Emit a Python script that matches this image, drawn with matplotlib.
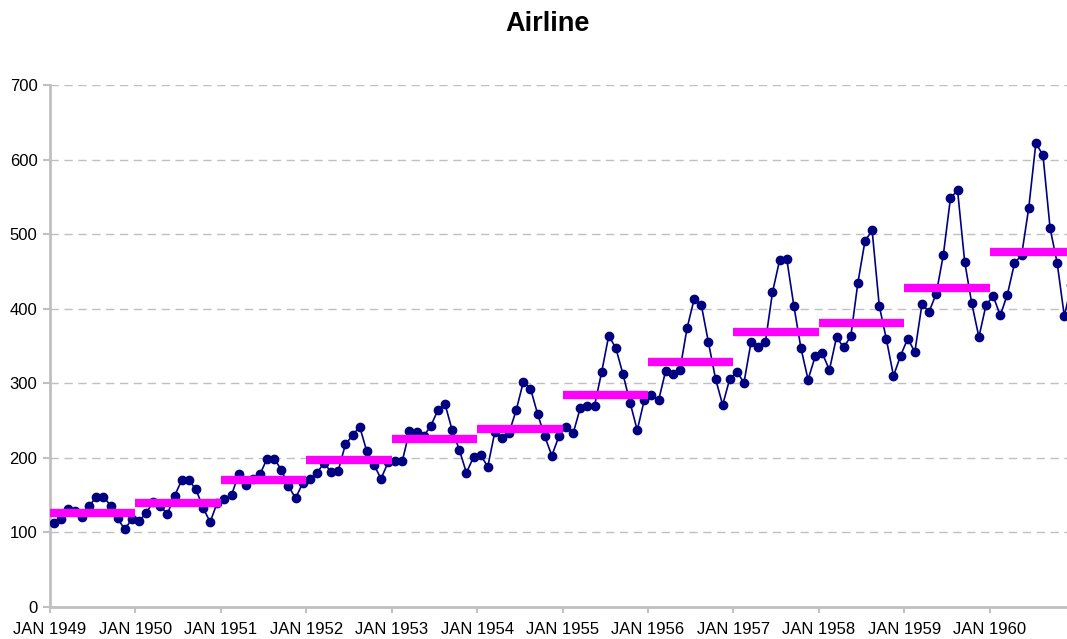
import matplotlib
matplotlib.use("Agg")
import matplotlib.pyplot as plt
import numpy as np

years = [1949, 1950, 1951, 1952, 1953, 1954, 1955, 1956, 1957, 1958, 1959, 1960]
passengers = [
    112, 118, 132, 129, 121, 135, 148, 148, 136, 119, 104, 118,
    115, 126, 141, 135, 125, 149, 170, 170, 158, 133, 114, 140,
    145, 150, 178, 163, 172, 178, 199, 199, 184, 162, 146, 166,
    171, 180, 193, 181, 183, 218, 230, 242, 209, 191, 172, 194,
    196, 196, 236, 235, 229, 243, 264, 272, 237, 211, 180, 201,
    204, 188, 235, 227, 234, 264, 302, 293, 259, 229, 203, 229,
    242, 233, 267, 269, 270, 315, 364, 347, 312, 274, 237, 278,
    284, 277, 317, 313, 318, 374, 413, 405, 355, 306, 271, 306,
    315, 301, 356, 348, 355, 422, 465, 467, 404, 347, 305, 336,
    340, 318, 362, 348, 363, 435, 491, 505, 404, 359, 310, 337,
    360, 342, 406, 396, 420, 472, 548, 559, 463, 407, 362, 405,
    417, 391, 419, 461, 472, 535, 622, 606, 508, 461, 390, 432,
]
yearly_mean = [126.7, 139.7, 170.2, 197.0, 225.0, 238.9, 284.0, 328.3, 368.4, 381.0, 428.3, 476.2]
tick_labels = ["JAN %d" % y for y in years]

plt.rcParams['font.family'] = ['Liberation Sans', 'DejaVu Sans']

W, H = 1067, 639
fig = plt.figure(figsize=(W / 100, H / 100), dpi=100)
ax_left, ax_right = 50, 1075
ax_top, ax_bottom = 85, 607
ax = fig.add_axes([ax_left / W, 1 - ax_bottom / H, (ax_right - ax_left) / W, (ax_bottom - ax_top) / H])

n = len(passengers)
x = np.arange(n) + 0.5
ax.plot(x, passengers, color='#000080', lw=1.2, marker='o', ms=6,
        markerfacecolor='#000080', markeredgecolor='#000080', zorder=3)

for i, m in enumerate(yearly_mean):
    ax.plot([12 * i, 12 * i + 12], [m, m], color='#FF00FF', lw=6,
            solid_capstyle='butt', zorder=4)

ax.set_xlim(0, 144)
ax.set_ylim(0, 700)
ax.set_xticks(np.arange(0, 144, 12))
ax.set_xticklabels(tick_labels, fontsize=12)
ax.set_yticks(np.arange(0, 701, 100))
ax.set_yticklabels([str(v) for v in range(0, 701, 100)], fontsize=12)
ax.yaxis.grid(True, color='#C0C0C0', linestyle=(0, (6, 4)), lw=1)
ax.set_axisbelow(True)

for s in ['top', 'right']:
    ax.spines[s].set_visible(False)
for s in ['left', 'bottom']:
    ax.spines[s].set_color('#C0C0C0')
    ax.spines[s].set_linewidth(2)
ax.tick_params(axis='x', length=4, width=1.5, color='#C0C0C0', pad=7)
ax.tick_params(axis='y', length=5, width=1.5, color='#C0C0C0', pad=4)

fig.text(548 / W, 1 - 24 / H, "Airline", fontsize=19.5, fontweight='bold',
         ha='center', va='center')

fig.savefig("out.png", dpi=100)
